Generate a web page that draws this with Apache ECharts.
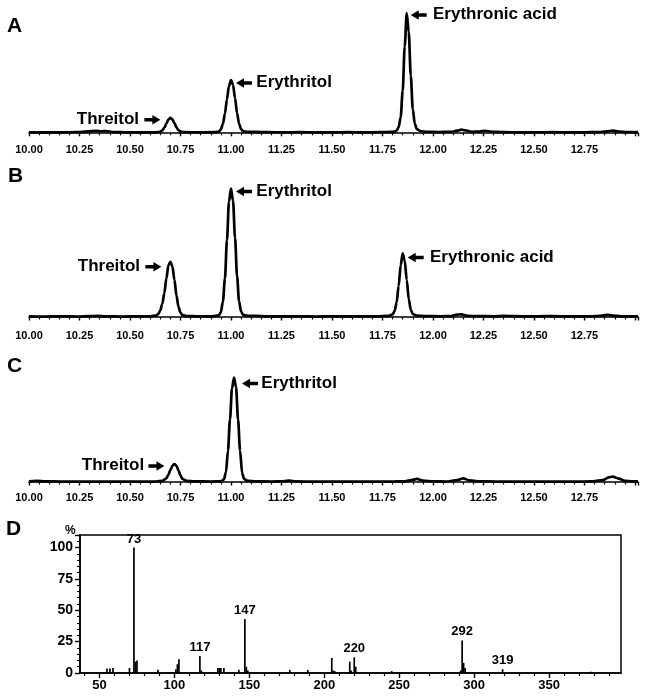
<!DOCTYPE html>
<html>
<head>
<meta charset="utf-8">
<script src="https://cdn.jsdelivr.net/npm/echarts@6/dist/echarts.min.js"></script>
<style>html,body{margin:0;padding:0;background:#fff;}#c{width:648px;height:696px;}</style>
</head>
<body>
<div id="c"></div>
<script>
// ---------- Chromatogram A (retention time, min / relative abundance) ----------
const timeA = [10.00,10.08,10.16,10.24,10.29,10.33,10.36,10.38,10.42,10.48,10.56,10.63,10.65,10.66,10.67,10.68,10.69,10.70,10.71,10.72,10.73,10.74,10.75,10.77,10.84,10.92,10.94,10.95,10.96,10.97,10.98,10.99,11.00,11.01,11.02,11.03,11.04,11.05,11.06,11.08,11.12,11.18,11.26,11.34,11.42,11.50,11.58,11.66,11.74,11.79,11.81,11.82,11.83,11.84,11.85,11.86,11.87,11.88,11.89,11.90,11.91,11.92,11.94,11.97,12.03,12.09,12.12,12.14,12.16,12.19,12.23,12.26,12.29,12.35,12.43,12.51,12.59,12.67,12.75,12.82,12.86,12.89,12.92,12.96,13.015];
const valueA = [0.4,0.3,0.4,0.5,1.2,1.6,1.3,1.5,0.6,0.4,0.3,0.4,0.9,2.0,4.2,7.6,11.0,12.5,11.2,8.0,4.6,2.2,1.0,0.5,0.4,0.5,1.0,2.8,7.5,16,28,39,44,40,29,16.5,7.5,3.0,1.3,0.7,0.8,0.5,0.4,0.5,0.4,0.4,0.5,0.4,0.5,0.7,1.0,1.8,4.5,13,35,72,100,84,48,20,7.5,3.0,1.3,0.8,0.6,0.8,1.8,2.6,2.0,0.9,1.0,1.7,0.9,0.5,0.4,0.4,0.5,0.4,0.4,0.6,1.2,1.8,1.1,0.5,0.5];

// ---------- Chromatogram B ----------
const timeB = [10.00,10.08,10.16,10.24,10.30,10.34,10.38,10.46,10.54,10.60,10.63,10.64,10.65,10.66,10.67,10.68,10.69,10.70,10.71,10.72,10.73,10.74,10.75,10.76,10.78,10.84,10.91,10.94,10.95,10.96,10.97,10.98,10.99,11.00,11.01,11.02,11.03,11.04,11.05,11.06,11.08,11.12,11.18,11.26,11.34,11.42,11.50,11.58,11.66,11.72,11.78,11.80,11.81,11.82,11.83,11.84,11.85,11.86,11.87,11.88,11.89,11.90,11.92,11.96,12.04,12.09,12.12,12.14,12.17,12.22,12.30,12.35,12.40,12.48,12.56,12.63,12.71,12.78,12.83,12.86,12.89,12.93,13.015];
const valueB = [0.6,0.4,0.5,0.4,0.7,0.9,0.6,0.4,0.5,0.6,1.2,2.5,5.5,11,20,32,43,46,42,31,18,8.5,3.5,1.5,0.8,0.5,0.6,1.4,4,13,32,64,96,107,97,66,34,13,4.5,1.8,0.9,1.0,0.6,0.5,0.6,0.4,0.5,0.6,0.5,0.6,1.0,2.2,5,12,26,43,53,47,31,15,6,2.5,1.1,0.7,0.6,0.8,2.0,2.2,1.0,0.7,0.6,1.0,0.7,0.5,0.7,0.6,0.5,0.6,0.9,1.8,1.2,0.6,0.6];

// ---------- Chromatogram C ----------
const timeC = [10.00,10.04,10.08,10.16,10.24,10.32,10.40,10.48,10.56,10.63,10.66,10.68,10.69,10.70,10.71,10.72,10.73,10.74,10.75,10.76,10.78,10.82,10.90,10.945,10.955,10.965,10.975,10.985,10.995,11.005,11.015,11.025,11.035,11.045,11.055,11.065,11.085,11.12,11.20,11.26,11.29,11.32,11.40,11.48,11.56,11.64,11.72,11.80,11.86,11.90,11.92,11.95,12.00,12.07,12.12,12.15,12.18,12.23,12.31,12.39,12.47,12.55,12.63,12.71,12.78,12.84,12.87,12.89,12.92,12.95,12.99,13.015];
const valueC = [0.6,1.0,0.6,0.4,0.3,0.4,0.3,0.4,0.3,0.4,1.0,3.0,6.0,10,13.5,15,13.5,9.5,5.5,2.5,1.0,0.5,0.4,0.6,0.8,2.2,8,26,52,78,87,79,52,26,7.5,2.4,0.9,0.6,0.4,0.6,1.2,0.5,0.3,0.4,0.3,0.4,0.3,0.4,0.5,1.8,2.6,1.2,0.5,0.4,1.5,3.0,1.4,0.5,0.4,0.3,0.4,0.3,0.4,0.3,0.5,1.5,3.8,4.5,2.8,1.0,0.5,0.6];

// ---------- Mass spectrum D (m/z, % relative intensity) ----------
const msMz = [55,57,59,70,73,74,75,89,101,102,103,117,118,129,130,131,133,143,147,148,149,177,189,205,206,207,217,218,220,221,245,291,292,293,294,319,378];
const msIntensity = [3.5,3.5,4,4,100,9,10,2.5,3,7,11,13.5,2,4,4,4,4,2.5,43,5,2,2.5,2.5,12,2,1.5,9,2,12.5,5,1.5,2,26,8,4,3,1];
const msLabeled = [73,117,147,220,292,319];
const msMajorTicks = [50,100,150,200,250,300,350];
const msMinorTicks = [40,60,70,80,90,110,120,130,140,160,170,180,190,210,220,230,240,260,270,280,290,310,320,330,340,360,370,380,390];
const msYTicks = [0,25,50,75,100];

// annotations: [time, value, text, side]
const annA = [[10.70,12.5,'Threitol','left'],[11.00,44,'Erythritol','right'],[11.87,100,'Erythronic acid','right']];
const annB = [[10.70,46,'Threitol','left'],[11.00,107,'Erythritol','right'],[11.85,53,'Erythronic acid','right']];
const annC = [[10.72,15,'Threitol','left'],[11.015,87,'Erythritol','right']];

const FONT = '"Liberation Sans", Arial, Helvetica, sans-serif';
const ARROW_R = 'path://M0,3 L8,3 L8,0 L16,4.75 L8,9.5 L8,6.5 L0,6.5 Z';
const ARROW_L = 'path://M16,3 L8,3 L8,0 L0,4.75 L8,9.5 L8,6.5 L16,6.5 Z';

function zip(t, v) { return t.map((x, i) => [x, v[i]]); }

function rtAxis(gi) {
  return {
    type: 'value', gridIndex: gi, min: 10, max: 13.015, interval: 0.25,
    axisLine: { lineStyle: { color: '#000', width: 1.6 } },
    axisTick: { show: true, length: 3.5, lineStyle: { color: '#000', width: 1.4 } },
    minorTick: { show: true, splitNumber: 5, length: 2.5, lineStyle: { color: '#000', width: 1.2 } },
    axisLabel: { color: '#000', fontFamily: FONT, fontWeight: 'bold', fontSize: 11, margin: 7,
      formatter: v => (v > 12.9 ? '' : v.toFixed(2)) },
    splitLine: { show: false }
  };
}
function hiddenY(gi, mn, mx) {
  return { type: 'value', gridIndex: gi, min: mn, max: mx, show: false, splitLine: { show: false } };
}
// offs: [textDistance, dy, arrowDx]
function annPoints(list, offs) {
  const out = [];
  list.forEach((a, i) => {
    const o = offs[i];
    out.push({
      coord: [a[0], a[1]], symbolSize: 1, itemStyle: { color: 'rgba(0,0,0,0)' },
      label: { show: true, position: a[3], distance: o[0], offset: [0, o[1]], formatter: a[2],
        color: '#000', fontFamily: FONT, fontWeight: 'bold', fontSize: 17 }
    });
    out.push({
      coord: [a[0], a[1]], symbol: a[3] === 'left' ? ARROW_R : ARROW_L, symbolSize: [16, 9.5],
      symbolOffset: [o[2], o[1]], itemStyle: { color: '#000' },
      label: { show: false }
    });
  });
  return out;
}
function chromSeries(idx, t, v, ann, offs) {
  return {
    type: 'line', xAxisIndex: idx, yAxisIndex: idx, data: zip(t, v),
    showSymbol: false, smooth: 0.3, smoothMonotone: 'x', animation: false,
    lineStyle: { color: '#000', width: 2.7 },
    markPoint: { animation: false, data: annPoints(ann, offs) }
  };
}

const msData = msMz.map((m, i) => ({
  value: [m, msIntensity[i]],
  label: { show: msLabeled.indexOf(m) >= 0 }
}));

const chart = echarts.init(document.getElementById('c'), null, { renderer: 'canvas' });
chart.setOption({
  animation: false,
  backgroundColor: '#fff',
  textStyle: { fontFamily: FONT },
  grid: [
    { left: 29, right: 10, top: 7, height: 130 },
    { left: 29, right: 10, top: 182.6, height: 140.4 },
    { left: 29, right: 10, top: 371.6, height: 113.4 },
    { left: 80, right: 27, top: 535, height: 138, show: true, borderColor: '#000', borderWidth: 1.5, backgroundColor: 'rgba(0,0,0,0)' }
  ],
  xAxis: [
    rtAxis(0), rtAxis(1), rtAxis(2),
    { type: 'value', gridIndex: 3, position: 'bottom', min: 37, max: 398,
      axisLine: { lineStyle: { color: '#000', width: 1.6 } },
      axisTick: { show: true, customValues: msMajorTicks, length: 5, lineStyle: { color: '#000', width: 1.4 } },
      axisLabel: { customValues: msMajorTicks, color: '#000', fontFamily: FONT, fontWeight: 'bold', fontSize: 13, margin: 6 },
      splitLine: { show: false } },
    { type: 'value', gridIndex: 3, position: 'bottom', min: 37, max: 398,
      axisLine: { show: false },
      axisTick: { show: true, customValues: msMinorTicks, length: 3, lineStyle: { color: '#000', width: 1.2 } },
      axisLabel: { show: false }, splitLine: { show: false } }
  ],
  yAxis: [
    hiddenY(0, -3.5, 105), hiddenY(1, -5, 112), hiddenY(2, -2.5, 92),
    { type: 'value', gridIndex: 3, min: 0, max: 110, interval: 25,
      axisLine: { show: true, lineStyle: { color: '#000', width: 1.6 } },
      axisTick: { show: true, length: 5, lineStyle: { color: '#000', width: 1.4 } },
      minorTick: { show: true, splitNumber: 5, length: 3, lineStyle: { color: '#000', width: 1.1 } },
      axisLabel: { color: '#000', fontFamily: FONT, fontWeight: 'bold', fontSize: 14, margin: 7, showMaxLabel: false,
        formatter: v => (msYTicks.indexOf(v) >= 0 ? String(v) : '') },
      splitLine: { show: false } }
  ],
  series: [
    chromSeries(0, timeA, valueA, annA, [[31, 2, -18], [25, 3, 13], [26, 2, 12]]),
    chromSeries(1, timeB, valueB, annB, [[30, 5, -17], [25, 3, 13], [27, 4, 13]]),
    chromSeries(2, timeC, valueC, annC, [[30, 2, -18], [27, 6, 16]]),
    { type: 'bar', xAxisIndex: 3, yAxisIndex: 3, data: msData, barWidth: 1.7, animation: false,
      itemStyle: { color: '#000' },
      label: { show: false, position: 'top', distance: 2, color: '#000', fontFamily: FONT, fontWeight: 'bold', fontSize: 13,
        formatter: p => String(p.value[0]) } }
  ],
  graphic: [
    { type: 'text', left: 7, top: 16, style: { text: 'A', font: 'bold 21px ' + FONT, fill: '#000' } },
    { type: 'text', left: 8, top: 166, style: { text: 'B', font: 'bold 21px ' + FONT, fill: '#000' } },
    { type: 'text', left: 7, top: 356, style: { text: 'C', font: 'bold 21px ' + FONT, fill: '#000' } },
    { type: 'text', left: 6, top: 519, style: { text: 'D', font: 'bold 21px ' + FONT, fill: '#000' } },
    { type: 'text', left: 65, top: 525, style: { text: '%', font: 'bold 12px ' + FONT, fill: '#000' } }
  ]
});
</script>
</body>
</html>
